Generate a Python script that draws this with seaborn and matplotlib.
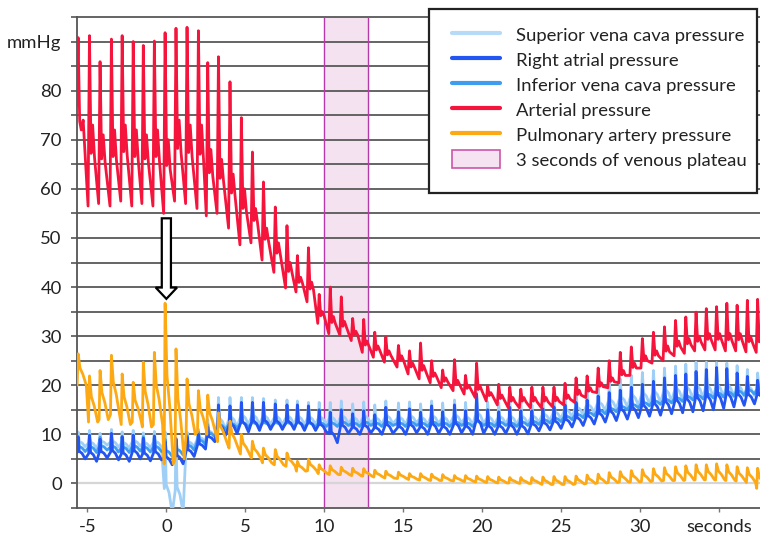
import numpy as np
import pandas as pd
import matplotlib
matplotlib.use("Agg")
import matplotlib.pyplot as plt
import seaborn as sns
from matplotlib.lines import Line2D
from matplotlib.patches import Patch, Rectangle, FancyArrow

# ---------------- data (one value per heart beat) ----------------
beat_t = [-5.59, -4.87, -4.20, -3.48, -2.80, -2.10, -1.46, -0.76, -0.08, 0.61,
          1.31, 2.03, 2.62, 3.30, 4.03, 4.75, 5.45, 6.15, 6.90, 7.64,
          8.30, 9.00, 9.68, 10.38, 11.08, 11.80, 12.50, 13.20, 13.90, 14.70,
          15.40, 16.10, 16.80, 17.50, 18.25, 18.95, 19.65, 20.35, 21.05, 21.75,
          22.45, 23.15, 23.85, 24.55, 25.25, 25.95, 26.65, 27.35, 28.05, 28.75,
          29.45, 30.15, 30.85, 31.55, 32.25, 32.90, 33.55, 34.20, 34.85, 35.50,
          36.15, 36.80, 37.45]

# Arterial pressure: systolic peak, diastolic foot, dicrotic level
art_peak = [90.8, 91.2, 85.9, 90.5, 91.2, 90.0, 89.2, 90.1, 91.8, 92.7,
            92.9, 92.2, 85.7, 86.9, 81.8, 74.5, 67.5, 61.4, 56.3, 52.5,
            46.4, 48.0, 38.5, 40.0, 38.0, 33.6, 33.4, 30.8, 29.8, 28.1,
            27.0, 28.6, 25.0, 23.1, 25.2, 22.0, 24.5, 19.9, 20.2, 19.6,
            19.2, 19.6, 19.6, 19.6, 20.4, 21.5, 21.9, 23.5, 25.0, 26.7,
            27.8, 29.5, 30.8, 31.9, 33.2, 33.9, 34.9, 35.6, 36.0, 36.7,
            36.3, 37.3, 37.5]
art_foot = [77.0, 56.5, 57.0, 56.5, 57.5, 56.5, 57.0, 56.5, 55.0, 57.5,
            57.0, 56.0, 54.5, 55.0, 52.0, 48.6, 49.0, 45.5, 43.0, 39.8,
            39.0, 37.0, 32.6, 30.5, 30.2, 29.1, 26.7, 25.7, 24.7, 23.7,
            22.3, 21.3, 20.5, 19.5, 18.9, 18.2, 17.5, 16.8, 16.0, 15.4,
            15.4, 15.4, 15.4, 15.6, 16.0, 16.5, 17.5, 18.5, 19.5, 20.5,
            22.0, 23.5, 24.5, 25.0, 26.0, 26.5, 27.0, 27.2, 27.2, 27.0,
            27.0, 26.8, 26.7]
art_notch = [72, 73, 71, 72, 73, 72, 71, 72, 70, 74,
             73, 73, 68, 66, 63, 60, 56, 52, 49, 45,
             42, 41, 35, 34, 33, 31, 29, 28, 27, 26,
             24.5, 24, 22.5, 21.5, 21, 20, 20, 18.5, 18, 17.5,
             17.5, 17.5, 17.5, 17.5, 18, 19, 19.5, 20.5, 21.5, 23,
             24.5, 26, 27, 28, 29, 29.5, 30, 30.5, 30.5, 30.5,
             30.5, 30, 30]

# Right atrial pressure: spike and base per beat
ra_peak = [9.5, 9.8, 9.0, 10.2, 9.5, 9.8, 9.2, 9.6, 8.5, 9.0,
           9.5, 10.0, 11.5, 16.0, 15.8, 16.5, 16.5, 16.5, 16.2, 16.0,
           16.0, 15.8, 15.0, 14.5, 15.0, 14.2, 14.8, 14.0, 15.5, 14.6,
           15.2, 14.5, 15.8, 14.6, 16.0, 14.8, 18.2, 15.0, 14.6, 15.5,
           14.8, 14.8, 15.2, 15.6, 16.0, 16.5, 17.0, 17.8, 18.5, 19.0,
           19.6, 20.2, 20.8, 21.5, 22.0, 22.3, 22.8, 23.2, 23.6, 23.4,
           22.5, 21.8, 21.0]
ra_base = [5.0, 4.5, 5.2, 4.8, 4.5, 5.0, 4.6, 4.8, 3.8, 4.0,
           5.5, 7.0, 8.5, 9.8, 10.2, 10.5, 10.8, 11.0, 11.0, 11.0,
           10.8, 10.8, 10.5, 8.3, 10.2, 10.0, 10.3, 10.0, 10.2, 10.0,
           10.3, 10.0, 10.2, 10.0, 10.3, 10.0, 10.2, 10.0, 10.2, 10.0,
           10.1, 10.7, 10.9, 11.2, 11.5, 11.8, 12.1, 12.5, 12.8, 13.1,
           13.4, 13.7, 13.9, 14.2, 14.4, 14.6, 14.8, 15.0, 15.3, 15.6,
           15.9, 16.2, 16.6]

# Superior vena cava pressure
svc_peak = [10.5, 10.8, 10.2, 11.0, 10.5, 10.8, 10.3, 10.6, 10.5, 9.0,
            10.5, 11.0, 13.0, 17.5, 17.5, 17.5, 17.5, 17.3, 17.0, 17.0,
            16.8, 16.5, 16.5, 16.5, 16.8, 16.2, 16.6, 16.0, 16.8, 16.4,
            16.6, 16.2, 16.8, 16.4, 17.0, 16.5, 18.5, 16.6, 16.4, 16.8,
            16.5, 16.0, 16.6, 17.2, 17.8, 18.5, 19.2, 19.9, 20.6, 21.3,
            22.0, 22.6, 23.0, 23.5, 23.9, 24.3, 24.7, 24.7, 24.6, 24.5,
            24.0, 23.2, 22.5]
svc_base = [7.5, 7.2, 7.8, 7.4, 7.2, 7.6, 7.3, 7.5, -6.0, -6.0,
            7.5, 8.5, 9.5, 11.0, 11.5, 12.0, 12.0, 12.0, 12.0, 12.0,
            12.0, 12.0, 12.0, 12.0, 12.2, 12.0, 12.3, 12.0, 12.2, 12.0,
            12.3, 12.0, 12.2, 12.0, 12.3, 12.0, 12.2, 12.0, 12.2, 12.0,
            12.2, 12.5, 12.8, 13.2, 13.6, 14.0, 14.4, 14.8, 15.2, 15.6,
            15.9, 16.2, 16.5, 16.8, 17.0, 17.2, 17.4, 17.5, 17.6, 17.7,
            17.8, 17.9, 18.0]

# Inferior vena cava pressure
ivc_peak = [9.5, 9.8, 9.4, 10.0, 9.6, 9.8, 9.5, 9.7, 9.0, 9.2,
            9.8, 10.5, 12.0, 14.0, 14.2, 14.2, 14.0, 14.0, 14.0, 14.0,
            14.0, 13.8, 13.8, 13.8, 14.0, 13.8, 14.0, 13.8, 14.0, 13.8,
            14.0, 13.8, 14.0, 13.8, 14.0, 13.8, 14.2, 13.8, 14.0, 13.8,
            14.0, 14.0, 14.3, 14.7, 15.1, 15.5, 15.9, 16.3, 16.7, 17.1,
            17.5, 17.9, 18.3, 18.7, 19.0, 19.3, 19.6, 19.9, 20.2, 20.4,
            20.6, 20.8, 21.0]
ivc_base = [6.5, 6.3, 6.8, 6.4, 6.3, 6.6, 6.4, 6.5, 5.5, 5.8,
            6.8, 8.0, 9.5, 11.0, 11.3, 11.5, 11.5, 11.5, 11.5, 11.5,
            11.5, 11.5, 11.6, 11.6, 11.8, 11.6, 11.8, 11.6, 11.8, 11.6,
            11.8, 11.6, 11.8, 11.6, 11.8, 11.6, 11.8, 11.6, 11.8, 11.6,
            11.8, 12.0, 12.3, 12.6, 13.0, 13.4, 13.8, 14.2, 14.6, 15.0,
            15.4, 15.8, 16.1, 16.4, 16.7, 17.0, 17.2, 17.4, 17.6, 17.8,
            18.0, 18.2, 18.4]

# Pulmonary artery pressure
pa_peak = [26.4, 21.9, 23.0, 26.1, 22.3, 20.6, 24.7, 26.7, 36.7, 27.4,
           21.3, 18.9, 18.0, 14.4, 12.7, 10.0, 8.6, 7.2, 6.9, 6.2,
           4.5, 4.9, 3.8, 3.6, 3.3, 3.1, 3.0, 2.7, 2.5, 2.3,
           2.0, 2.0, 1.9, 1.8, 1.6, 1.6, 1.5, 1.4, 1.3, 1.2,
           1.2, 1.2, 1.3, 1.4, 1.4, 1.5, 1.7, 1.9, 2.2, 2.4,
           2.6, 2.8, 3.0, 3.2, 3.4, 3.6, 3.8, 3.8, 4.0, 3.8,
           3.4, 3.2, 3.1]
pa_base = [20.0, 12.5, 13.0, 14.0, 12.0, 12.5, 11.5, 12.0, 4.0, 5.0,
           10.0, 10.5, 10.0, 8.5, 7.2, 6.0, 5.2, 4.2, 3.8, 3.5,
           2.5, 2.6, 2.0, 1.8, 1.8, 1.6, 1.5, 1.3, 1.1, 1.0,
           0.8, 0.7, 0.6, 0.6, 0.5, 0.4, 0.3, 0.2, 0.1, 0.1,
           0.0, 0.0, -0.2, -0.2, -0.2, -0.1, 0.0, 0.1, 0.2, 0.3,
           0.3, 0.4, 0.5, 0.6, 0.6, 0.7, 0.75, 0.75, 0.7, 0.6,
           0.5, 0.2, -1.0]

plateau = (10.0, 12.8)
x_ticks = [-5, 0, 5, 10, 15, 20, 25, 30, 35]
x_labels = ["-5", "0", "5", "10", "15", "20", "25", "30", "seconds"]
y_ticks = [0, 10, 20, 30, 40, 50, 60, 70, 80, 90]
y_labels = ["0", "10", "20", "30", "40", "50", "60", "70", "80", "mmHg"]

names = ["Superior vena cava pressure", "Right atrial pressure",
         "Inferior vena cava pressure", "Arterial pressure",
         "Pulmonary artery pressure"]
colors = ["#9fcff6", "#2355f2", "#3f9df0", "#f5143c", "#fca914"]
legend_colors = ["#b5dbf8", "#2355f2", "#3f9df0", "#f5143c", "#fca914"]


# ---------------- build traces from the per-beat values ----------------
def arterial(t, foot, peak, notch):
    xs, ys = [], []
    for tp, f, p, n in zip(t, foot, peak, notch):
        xs += [tp - 0.09, tp, tp + 0.10, tp + 0.20, tp + 0.32]
        ys += [f, p, n - 0.35 * (n - f), n, n - 0.4 * (n - f)]
    return xs, ys


def venous(t, base, peak):
    xs, ys = [], []
    for tp, b, p in zip(t, base, peak):
        d = p - b
        xs += [tp - 0.05, tp, tp + 0.07, tp + 0.25, tp + 0.45]
        ys += [b + 0.3 * d, p, b + 0.35 * d, b + 0.25 * d, b]
    return xs, ys


def pulmonary(t, base, peak):
    xs, ys = [], []
    for tp, b, p in zip(t, base, peak):
        d = p - b
        xs += [tp - 0.06, tp, tp + 0.12, tp + 0.30, tp + 0.52]
        ys += [b, p, b + 0.55 * d, b + 0.35 * d, b]
    return xs, ys


traces = {
    names[0]: venous(beat_t, svc_base, svc_peak),
    names[1]: venous(beat_t, ra_base, ra_peak),
    names[2]: venous(beat_t, ivc_base, ivc_peak),
    names[3]: arterial(beat_t, art_foot, art_peak, art_notch),
    names[4]: pulmonary(beat_t, pa_base, pa_peak),
}

# ---------------- figure ----------------
sns.set_style("white")
plt.rcParams["font.family"] = ["Lato", "DejaVu Sans"]
plt.rcParams["axes.unicode_minus"] = False

fig = plt.figure(figsize=(7.6, 5.37), dpi=100)
ax = fig.add_axes([77 / 760, 1 - 508 / 537, (760 - 77) / 760, 491 / 537])
ax.set_xlim(-5.66, 37.6)
ax.set_ylim(-5, 95)

# plateau band
ax.axvspan(plateau[0], plateau[1], facecolor="#f4e2f1", edgecolor="none", zorder=0.5)
for xv in plateau:
    ax.axvline(xv, color="#b63aa8", lw=1.0, zorder=1.5)

# horizontal grid lines every 5 mmHg
for yv in range(-5, 96, 5):
    if yv == 0:
        ax.axhline(yv, color="#d6d6d6", lw=1.6, zorder=1, clip_on=False)
    else:
        ax.axhline(yv, color="#585858", lw=1.3, zorder=1, clip_on=False)

zorders = [2, 4, 3, 5, 6]
for name, col, z in zip(names, colors, zorders):
    xs, ys = traces[name]
    df = pd.DataFrame({"t": xs, "p": ys})
    sns.lineplot(data=df, x="t", y="p", ax=ax, color=col, lw=2.0,
                 estimator=None, sort=False, legend=False, zorder=z)

# hollow arrow at t = 0
arr = FancyArrow(0.0, 54.0, 0.0, -16.4, width=0.58, head_width=1.35,
                 head_length=2.3, length_includes_head=True,
                 facecolor="white", edgecolor="black", lw=1.6, zorder=8)
ax.add_patch(arr)

# axes styling
for s in ["top", "right", "bottom"]:
    ax.spines[s].set_visible(False)
ax.spines["left"].set_color("#555555")
ax.spines["left"].set_linewidth(1.3)

ax.set_yticks(list(range(-5, 96, 5)))
ax.set_yticklabels([y_labels[y_ticks.index(v)] if v in y_ticks else "" for v in range(-5, 96, 5)])
ax.set_xticks(x_ticks)
ax.set_xticklabels(x_labels)
ax.tick_params(axis="y", which="both", left=True, length=4, width=1.2, color="#555555",
               pad=7, labelsize=13.3, labelcolor="#222222")
ax.tick_params(axis="x", which="both", bottom=True, length=3, width=1.0, color="#777777",
               pad=5, labelsize=13.3, labelcolor="#222222")
ax.set_xlabel("")
ax.set_ylabel("")
ax.grid(False)

# legend box
fig.patches.append(Rectangle((429 / 760, 1 - 193 / 537), (757 - 429) / 760, (193 - 9) / 537,
                             transform=fig.transFigure, facecolor="white",
                             edgecolor="#222222", lw=1.6, zorder=10))
handles = [Line2D([0], [0], color=c, lw=3) for c in legend_colors]
handles.append(Patch(facecolor="#f5e3f1", edgecolor="#cc55aa", lw=1.2))
labels = names + ["3 seconds of venous plateau"]
leg = fig.legend(handles, labels, loc="upper left",
                 bbox_to_anchor=(452 / 760, 1 - 25.5 / 537),
                 bbox_transform=fig.transFigure, frameon=False, borderpad=0,
                 borderaxespad=0, handlelength=2.6, handleheight=1.1,
                 handletextpad=0.85, labelspacing=0.37, fontsize=13.3)
leg.set_zorder(11)
for txt in leg.get_texts():
    txt.set_color("#222222")

fig.savefig("out.png", dpi=100)
